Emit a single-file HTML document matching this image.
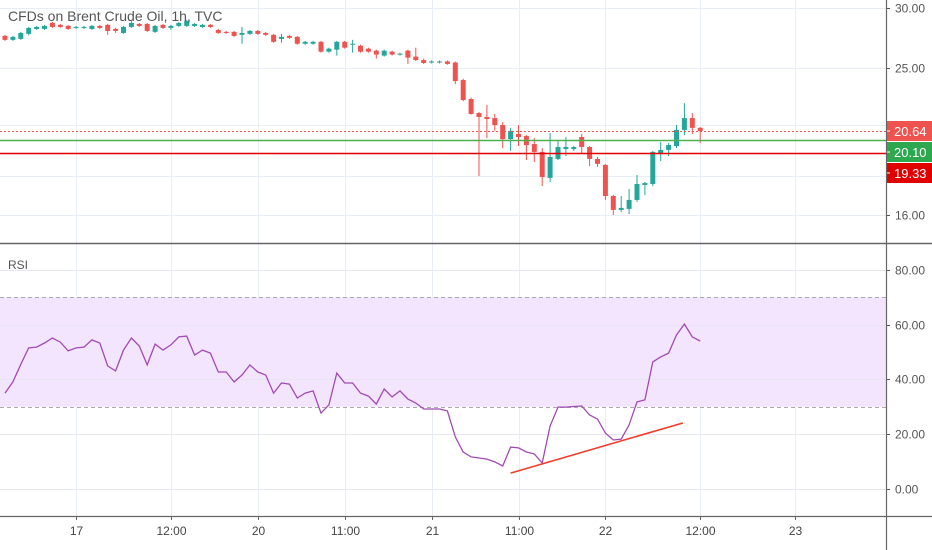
<!DOCTYPE html>
<html><head><meta charset="utf-8"><style>
html,body{margin:0;padding:0;background:#fff;}
svg{display:block;font-family:"Liberation Sans",sans-serif;}
</style></head><body>
<svg id="chart" width="932" height="550" viewBox="0 0 932 550"></svg>
<script>
const opens=[27.56,27.23,27.31,27.73,28.15,28.15,28.67,28.50,28.41,28.24,28.24,28.15,28.41,28.50,28.15,27.81,28.32,28.58,28.58,27.90,28.50,28.24,28.41,28.41,28.41,28.32,28.50,28.06,27.90,27.90,27.65,27.73,27.98,27.81,27.65,27.31,27.56,27.48,26.91,26.91,27.07,26.27,26.43,27.07,26.83,26.75,26.51,26.35,25.96,26.27,26.04,26.35,25.88,25.61,25.42,25.42,25.50,25.42,24.10,22.75,21.80,21.54,21.47,21.02,20.14,20.46,20.33,19.84,19.37,17.90,18.96,19.54,19.54,20.27,19.66,18.96,18.62,16.94,16.24,16.29,16.74,17.52,17.57,19.31,19.49,19.72,20.71,21.47,20.84];
const highs=[27.65,27.56,27.90,28.32,28.41,28.50,28.75,28.58,28.50,28.41,28.41,28.50,28.50,28.58,28.24,28.41,28.84,28.67,28.67,28.50,28.58,28.50,28.75,28.93,28.67,28.58,28.58,28.15,27.98,27.98,28.32,28.06,28.06,27.90,27.73,27.73,27.65,27.56,27.15,27.15,27.15,26.59,27.15,27.15,27.23,26.83,26.59,26.43,26.43,26.35,26.19,26.43,26.59,25.73,25.58,25.58,25.58,25.50,24.20,22.85,21.87,22.34,21.74,21.21,20.84,21.02,20.39,20.20,19.60,20.52,20.08,20.27,19.72,20.46,19.72,19.08,18.68,17.00,16.94,17.30,18.06,17.68,19.43,19.96,19.90,21.02,22.47,21.80,20.90];
const lows=[27.15,27.15,27.23,27.60,28.07,28.07,28.24,28.24,28.07,28.15,28.15,28.07,28.15,27.65,27.81,27.73,28.24,28.32,27.90,27.81,28.15,28.07,28.32,28.32,28.32,28.24,28.24,27.73,27.73,27.48,26.91,27.65,27.65,27.56,26.99,26.99,27.31,26.83,26.83,26.83,26.19,26.19,25.96,26.51,26.19,26.19,26.19,25.73,25.88,25.96,25.96,25.31,25.54,25.31,25.35,25.35,25.25,23.80,22.60,21.70,18.00,20.20,20.65,19.60,19.43,19.72,18.90,18.79,17.46,17.68,18.90,19.13,19.43,19.25,18.56,18.51,16.74,15.99,16.14,16.04,16.64,16.99,17.46,18.84,19.13,19.60,20.39,20.46,19.90];
const closes=[27.23,27.48,27.81,28.24,28.32,28.41,28.32,28.32,28.15,28.32,28.32,28.41,28.24,27.98,27.98,28.32,28.67,28.41,27.98,28.41,28.24,28.41,28.67,28.84,28.58,28.50,28.32,27.81,27.81,27.56,27.81,27.98,27.73,27.65,27.07,27.48,27.40,26.91,27.07,27.07,26.27,26.51,27.07,26.59,26.91,26.27,26.27,26.04,26.35,26.04,26.11,25.80,25.61,25.38,25.50,25.50,25.31,24.03,22.68,21.74,21.54,21.41,21.02,20.14,20.65,20.27,19.78,19.37,17.95,19.08,19.66,19.66,19.66,19.66,18.96,18.68,16.94,16.24,16.34,16.74,17.57,17.62,19.37,19.49,19.78,20.71,21.47,20.84,20.64];
const rsiValues=[35.0,39.1,45.5,51.5,51.8,53.3,55.1,53.6,50.4,51.5,51.8,54.4,53.3,44.9,43.1,50.7,55.1,52.2,45.3,52.9,50.7,52.6,55.5,55.8,48.9,50.7,49.6,42.7,42.7,39.1,41.6,45.3,42.7,41.6,35.0,38.7,38.3,33.2,35.0,35.8,27.7,30.7,42.3,38.7,38.7,35.0,33.9,31.0,36.5,33.6,35.8,32.8,31.4,29.2,29.2,29.2,28.5,19.0,13.5,11.7,11.3,10.9,9.9,8.4,15.3,15.0,13.5,12.8,9.5,23.0,29.9,29.9,30.1,30.3,27.0,25.5,20.4,17.9,18.2,23.4,31.8,32.5,46.4,48.2,49.6,56.2,60.2,55.5,54.0];
const priceTicks=[30,25,21,18,16];
const priceTickLabels=["30.00","25.00","","","16.00"];
const rsiTicks=[80,60,40,20,0];
const rsiTickLabels=["80.00","60.00","40.00","20.00","0.00"];
const timeLabels=["17","12:00","20","11:00","21","11:00","22","12:00","23"];
const timeIndex=[9,21,32,43,54,65,76,88,100];
const levelValues=[20.64,20.10,19.33];
const levelLabels=["20.64","20.10","19.33"];
const trendStart=[64,5.8];
const trendEnd=[85.8,24.1];

const NS="http://www.w3.org/2000/svg";
const svg=document.getElementById('chart');
function el(tag,attrs,parent){const e=document.createElementNS(NS,tag);for(const k in attrs)e.setAttribute(k,attrs[k]);(parent||svg).appendChild(e);return e;}
const PW=886;
function xOf(i){return 5+7.9*i;}
function yP(p){return 8+329*Math.log(30/p);}
function yR(v){return 489-2.74*v;}

// vertical grid
timeIndex.forEach((ti,k)=>{
  const x=Math.round(xOf(ti))+0.5;
  const g=el('line',{x1:x,x2:x,y1:0,y2:516,stroke:'#e9eef5','stroke-width':1});
  
  
});
// price grid
priceTicks.forEach((p,k)=>{
  const y=Math.round(yP(p))+0.5;
  const g=el('line',{x1:0,x2:PW,y1:y,y2:y,stroke:'#e9eef5'});
  
  
  el('line',{x1:PW,x2:PW+4,y1:y,y2:y,stroke:'#555'});
  if(priceTickLabels[k]){
    const t=el('text',{x:895,y:y+4,'font-size':12,fill:'#555'});
    t.textContent=priceTickLabels[k];
    
    
  }
});
// rsi band
const band=el('rect',{x:0,y:yR(70),width:PW,height:yR(30)-yR(70),fill:'#f3e5fd'});


rsiTicks.forEach((v,k)=>{
  const y=Math.round(yR(v))+0.5;
  const g=el('line',{x1:0,x2:PW,y1:y,y2:y,stroke:'#e6e6f2'});
  
  
  el('line',{x1:PW,x2:PW+4,y1:y,y2:y,stroke:'#555'});
  const t=el('text',{x:895,y:y+4,'font-size':12,fill:'#555'});
  t.textContent=rsiTickLabels[k];
  
  
});
[70,30].forEach(v=>{
  const y=Math.round(yR(v))+0.5;
  const l=el('line',{x1:0,x2:PW,y1:y,y2:y,stroke:'#aaa','stroke-dasharray':'4 3'});
  
  
});
// candles
for(let i=0;i<opens.length;i++){
  const up=closes[i]>=opens[i];
  const c=up?'#26a69a':'#ef5350';
  const x=xOf(i);
  const w=el('line',{x1:x,x2:x,y1:yP(highs[i]),y2:yP(lows[i]),stroke:c,'stroke-width':1});
  
  
  const top=yP(Math.max(opens[i],closes[i])),bot=yP(Math.min(opens[i],closes[i]));
  const b=el('rect',{x:x-2.5,y:top,width:5,height:Math.max(1,bot-top),fill:c});
  
  
}
// level lines
const lvlColors=['#ef5350','#4caf50','#e00000'];
const lvlBg=['#ef5350','#2ea84f','#e00000'];
levelValues.forEach((v,k)=>{
  const y=Math.round(yP(v))+0.5;
  const l=el('line',{x1:0,x2:PW,y1:y,y2:y,stroke:lvlColors[k],'stroke-width':k==0?1:1.5,'stroke-dasharray':k==0?'2 2':'none'});
  
  
});
const labelY=[121,142,163];
levelLabels.forEach((s,k)=>{
  const r=el('rect',{x:PW,y:labelY[k],width:46,height:20,fill:lvlBg[k]});
  
  
  el('line',{x1:PW,x2:PW+4,y1:labelY[k]+10,y2:labelY[k]+10,stroke:'#fff'});
  const t=el('text',{x:894,y:labelY[k]+15,'font-size':13,fill:'#fff'});
  t.textContent=s;
});
// rsi line
let d='';
rsiValues.forEach((v,i)=>{d+=(i?'L':'M')+xOf(i).toFixed(1)+','+yR(v).toFixed(1);});
const rl=el('path',{d:d,fill:'none',stroke:'#a14bb4','stroke-width':1.3});


const tl=el('line',{x1:xOf(trendStart[0]),y1:yR(trendStart[1]),x2:xOf(trendEnd[0]),y2:yR(trendEnd[1]),stroke:'#f23c2c','stroke-width':1.6});


// axes / separators
const ax=el('line',{x1:PW+0.5,x2:PW+0.5,y1:0,y2:550,stroke:'#666','stroke-width':1.2});


const sep=el('line',{x1:0,x2:932,y1:243.5,y2:243.5,stroke:'#666','stroke-width':1.5});


const ta=el('line',{x1:0,x2:932,y1:516.5,y2:516.5,stroke:'#666','stroke-width':1.2});


timeLabels.forEach((s,k)=>{
  const x=Math.round(xOf(timeIndex[k]))+0.5;
  el('line',{x1:x,x2:x,y1:516,y2:520,stroke:'#666'});
  const t=el('text',{x:x,y:535,'font-size':12,fill:'#444','text-anchor':'middle'});
  t.textContent=s;
  
  
});
const title=el('text',{x:8,y:21,'font-size':14,fill:'#555'});
title.textContent='CFDs on Brent Crude Oil, 1h, TVC';


const rt=el('text',{x:8,y:269,'font-size':12,fill:'#555'});
rt.textContent='RSI';


</script>
</body></html>
